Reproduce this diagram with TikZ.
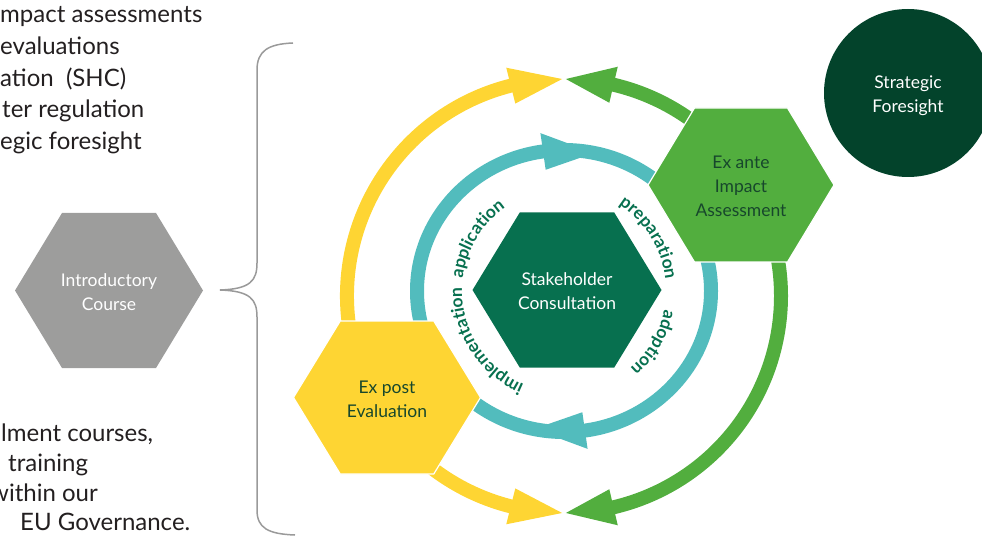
\documentclass[tikz,border=0pt]{standalone}
\usepackage{fontspec}
\setmainfont{Lato}
\usetikzlibrary{decorations.text,calc}
\definecolor{cyellow}{HTML}{FED533}
\definecolor{cgreen}{HTML}{52AE3E}
\definecolor{cteal}{HTML}{52BCBD}
\definecolor{cdark}{HTML}{07704F}
\definecolor{cdeep}{HTML}{03432B}
\definecolor{cgray}{HTML}{9D9D9C}
\definecolor{ctext}{HTML}{17472C}
\definecolor{cbrace}{HTML}{9A9A9A}
\definecolor{cblack}{HTML}{231F20}
\newcommand{\hexshape}[5]{%
  \path[#5] (#1-#3,#2) -- (#1-#3/2,#2+#4) -- (#1+#3/2,#2+#4) -- (#1+#3,#2) -- (#1+#3/2,#2-#4) -- (#1-#3/2,#2-#4) -- cycle;}
\newcommand{\lblfont}{\fontsize{17.5}{17.5}\selectfont\bfseries}
\begin{document}
\begin{tikzpicture}[x=1pt,y=1pt,
  hextext/.style={align=center, font=\fontsize{17.5}{24}\selectfont, inner sep=0pt},
  lefttext/.style={anchor=mid west, font=\fontsize{24}{28}\selectfont, text=cblack, inner sep=0pt},
  ring/.style={line width=14pt},
  hexborder/.style={draw=white, line width=1.2pt},
  arclabel/.style={decorate, decoration={text along path, text align=center, text color=cdark}}]
\useasboundingbox (0,0) rectangle (982,536);
\coordinate (Co) at (564,240);
\coordinate (Ct) at (564,245);
% outer arcs
\draw[ring, cyellow] ($(Co)+(192:217)$) arc[start angle=192, end angle=104.0, radius=217];
\draw[ring, cgreen] ($(Co)+(45:217)$) arc[start angle=45, end angle=77.0, radius=217];
\draw[ring, cgreen] ($(Co)+(20:217)$) arc[start angle=20, end angle=-77.0, radius=217];
\draw[ring, cyellow] ($(Co)+(-140:217)$) arc[start angle=-140, end angle=-104.0, radius=217];
\fill[cyellow] ($(Co)+(104.2:235.5)$) -- ($(Co)+(90.5:217)$) -- ($(Co)+(104.2:198.5)$) -- cycle;
\fill[cgreen] ($(Co)+(76.8:235.5)$) -- ($(Co)+(89.5:217)$) -- ($(Co)+(76.8:198.5)$) -- cycle;
\fill[cyellow] ($(Co)+(-104.2:235.5)$) -- ($(Co)+(-90.5:217)$) -- ($(Co)+(-104.2:198.5)$) -- cycle;
\fill[cgreen] ($(Co)+(-76.8:235.5)$) -- ($(Co)+(-89.5:217)$) -- ($(Co)+(-76.8:198.5)$) -- cycle;
% teal ring
\draw[ring, cteal] (Ct) ellipse[x radius=147, y radius=141];
\fill[cteal] ($(Ct)+(98.2:165.5 and 159.5)$) -- ($(Ct)+(78.2:147 and 141)$) -- ($(Ct)+(98.2:128.5 and 122.5)$) -- cycle;
\fill[cteal] ($(Ct)+(-81.8:165.5 and 159.5)$) -- ($(Ct)+(-101.8:147 and 141)$) -- ($(Ct)+(-81.8:128.5 and 122.5)$) -- cycle;
% hexagons
\hexshape{567}{246}{94.5}{77.5}{fill=cdark}
\hexshape{741}{351}{93}{77}{fill=cgreen, hexborder}
\hexshape{387}{138.5}{93.5}{76.5}{fill=cyellow, hexborder}
\hexshape{109}{245.5}{94}{77.5}{fill=cgray}
\node[hextext, text=white] (sc) at (567,244.5) {Stakeholder\\Consultation};
\node[hextext, text=ctext] (ia) at (741,350) {Ex ante\\Impact\\Assessment};
\node[hextext, text=ctext] (ev) at (387,137) {Ex post\\Evaluation};
\node[hextext, text=white] (ic) at (109,244) {Introductory\\Course};
\node[circle, fill=cdeep, minimum size=168, inner sep=0pt] (sfc) at (908,443) {};
\node[hextext, text=white] (sf) at (908,440) {Strategic\\Foresight};
% arc labels
\path[arclabel, decoration={text={|\lblfont|application}}] ($(Ct)+(199:102)$) arc[start angle=199, end angle=99, radius=102];
\path[arclabel, decoration={text={|\lblfont|preparation}}] ($(Ct)+(82:102)$) arc[start angle=82, end angle=-18, radius=102];
\path[arclabel, decoration={text={|\lblfont|adoption}}] ($(Ct)+(20:102)$) arc[start angle=20, end angle=-80, radius=102];
\path[arclabel, decoration={text={|\lblfont|implementation}}] ($(Ct)+(262.5:102)$) arc[start angle=262.5, end angle=162.5, radius=102];
% brace
\draw[cbrace, line width=1.5pt] (293,493) .. controls (268,492) and (257,485) .. (257,466) -- (257,273) .. controls (257,255) and (250,247) .. (220,246) .. controls (250,245) and (257,237) .. (257,219) -- (257,26) .. controls (257,8) and (268,2) .. (295,1);
% left texts
\node[lefttext] (t1) at (0,516) {mpact assessments};
\node[lefttext] (t2) at (0,484) {evaluations};
\node[lefttext] (t3) at (0,452) {ation\ \ (SHC)};
\node[lefttext] (t4) at (2,421) {ter regulation};
\node[lefttext] (t5) at (0,389) {egic foresight};
\node[lefttext] (b1) at (1,97) {lment courses,};
\node[lefttext] (b2) at (8,67) {training};
\node[lefttext] (b3) at (-10,37) {within our};
\node[lefttext] (b4) at (20,8) {EU Governance.};
\end{tikzpicture}
\end{document}
